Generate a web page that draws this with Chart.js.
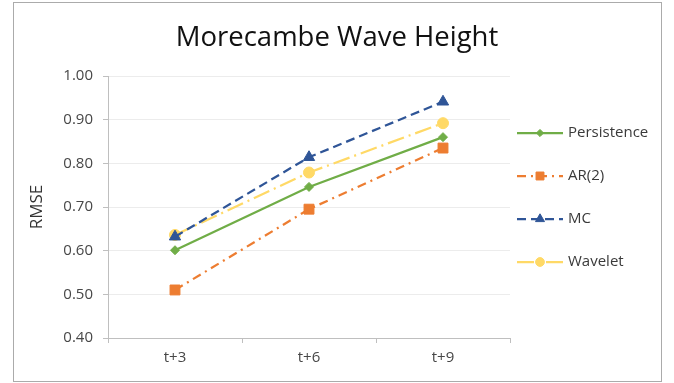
<!DOCTYPE html>
<html>
<head>
<meta charset="utf-8">
<script src="https://cdn.jsdelivr.net/npm/chart.js"></script>
<style>
  html, body { margin: 0; padding: 0; background: #fff; }
  #wrap { width: 674px; height: 383px; }
</style>
</head>
<body>
<div id="wrap"><canvas id="grafico" width="674" height="383"></canvas></div>
<script>
"use strict";
// dados
const horizontes = ['t+3', 't+6', 't+9'];
const persistence = [0.601, 0.746, 0.860];
const ar2 = [0.510, 0.695, 0.835];
const mc = [0.632, 0.814, 0.941];
const wavelet = [0.636, 0.779, 0.892];
const yTicks = [0.40, 0.50, 0.60, 0.70, 0.80, 0.90, 1.00];

const FONTE = "'Open Sans', 'DejaVu Sans', sans-serif";
const CINZA = '#474747';

// título, borda e legenda desenhados à mão (estilo Excel)
const moldura = {
  id: 'moldura',
  beforeDraw(chart) {
    const ctx = chart.ctx;
    ctx.save();
    ctx.strokeStyle = '#ababab';
    ctx.lineWidth = 1;
    ctx.strokeRect(13.5, 2.5, 648, 379);
    ctx.restore();
  },
  afterDraw(chart) {
    const ctx = chart.ctx;
    ctx.save();
    ctx.fillStyle = '#111';
    ctx.font = '27.5px ' + FONTE;
    ctx.textAlign = 'center';
    ctx.textBaseline = 'alphabetic';
    ctx.fillText('Morecambe Wave Height', 337, 46);

    chart.data.datasets.forEach(function(ds, i) {
      const y = 133 + i * 43;
      ctx.beginPath();
      ctx.setLineDash(ds.borderDash || []);
      ctx.strokeStyle = ds.borderColor;
      ctx.lineWidth = ds.borderWidth;
      ctx.moveTo(517, y);
      ctx.lineTo(563, y);
      ctx.stroke();
      ctx.setLineDash([]);
      ctx.lineWidth = 1;
      ctx.fillStyle = ds.pointBackgroundColor;
      ctx.strokeStyle = ds.pointBorderColor;
      Chart.helpers.drawPoint(ctx, {
        pointStyle: ds.pointStyle,
        radius: ds.pointRadius * 0.8,
        rotation: 0,
        borderWidth: 1
      }, 540, y);
      ctx.fillStyle = '#3a3a3a';
      ctx.font = '15px ' + FONTE;
      ctx.textAlign = 'left';
      ctx.textBaseline = 'middle';
      ctx.fillText(ds.label, 568, y);
    });
    ctx.restore();
  }
};

function serie(label, data, cor, dash, estilo, raio) {
  return {
    label: label,
    data: data,
    borderColor: cor,
    backgroundColor: cor,
    borderWidth: 2.25,
    borderDash: dash,
    pointStyle: estilo,
    pointRadius: raio,
    pointHoverRadius: raio,
    pointBackgroundColor: cor,
    pointBorderColor: cor,
    pointBorderWidth: 1,
    tension: 0,
    fill: false
  };
}

new Chart(document.getElementById('grafico').getContext('2d'), {
  type: 'line',
  data: {
    labels: horizontes,
    datasets: [
      serie('Persistence', persistence, '#70AD47', [], 'rectRot', 4.5),
      serie('AR(2)', ar2, '#ED7D31', [9, 5, 2, 5], 'rect', 7),
      serie('MC', mc, '#2F5597', [9, 5], 'triangle', 6.5),
      serie('Wavelet', wavelet, '#FFD966', [17, 5, 2, 5], 'circle', 5.5)
    ]
  },
  options: {
    responsive: false,
    animation: false,
    layout: { padding: { left: 13, top: 76, right: 164, bottom: 0 } },
    plugins: {
      legend: { display: false },
      title: { display: false },
      tooltip: { enabled: false }
    },
    scales: {
      x: {
        offset: true,
        afterFit: function(scale) { scale.height = 45; },
        grid: { offset: true, drawOnChartArea: false, tickLength: 5, tickColor: '#bfbfbf' },
        border: { color: '#bfbfbf', width: 1 },
        ticks: { color: CINZA, font: { family: FONTE, size: 15 }, padding: 6, maxRotation: 0 }
      },
      y: {
        min: 0.4,
        max: 1.0,
        afterFit: function(scale) { scale.width = 95; },
        afterBuildTicks: function(scale) { scale.ticks = yTicks.map(v => ({ value: v })); },
        grid: { color: '#ececec', tickLength: 5, tickColor: '#bfbfbf' },
        border: { color: '#bfbfbf', width: 1 },
        ticks: {
          color: CINZA,
          font: { family: FONTE, size: 15 },
          padding: 10,
          callback: v => Number(v).toFixed(2)
        },
        title: {
          display: true,
          text: 'RMSE',
          color: '#333',
          font: { family: FONTE, size: 17 },
          padding: { top: 14, bottom: 0 }
        }
      }
    }
  },
  plugins: [moldura]
});
</script>
</body>
</html>
